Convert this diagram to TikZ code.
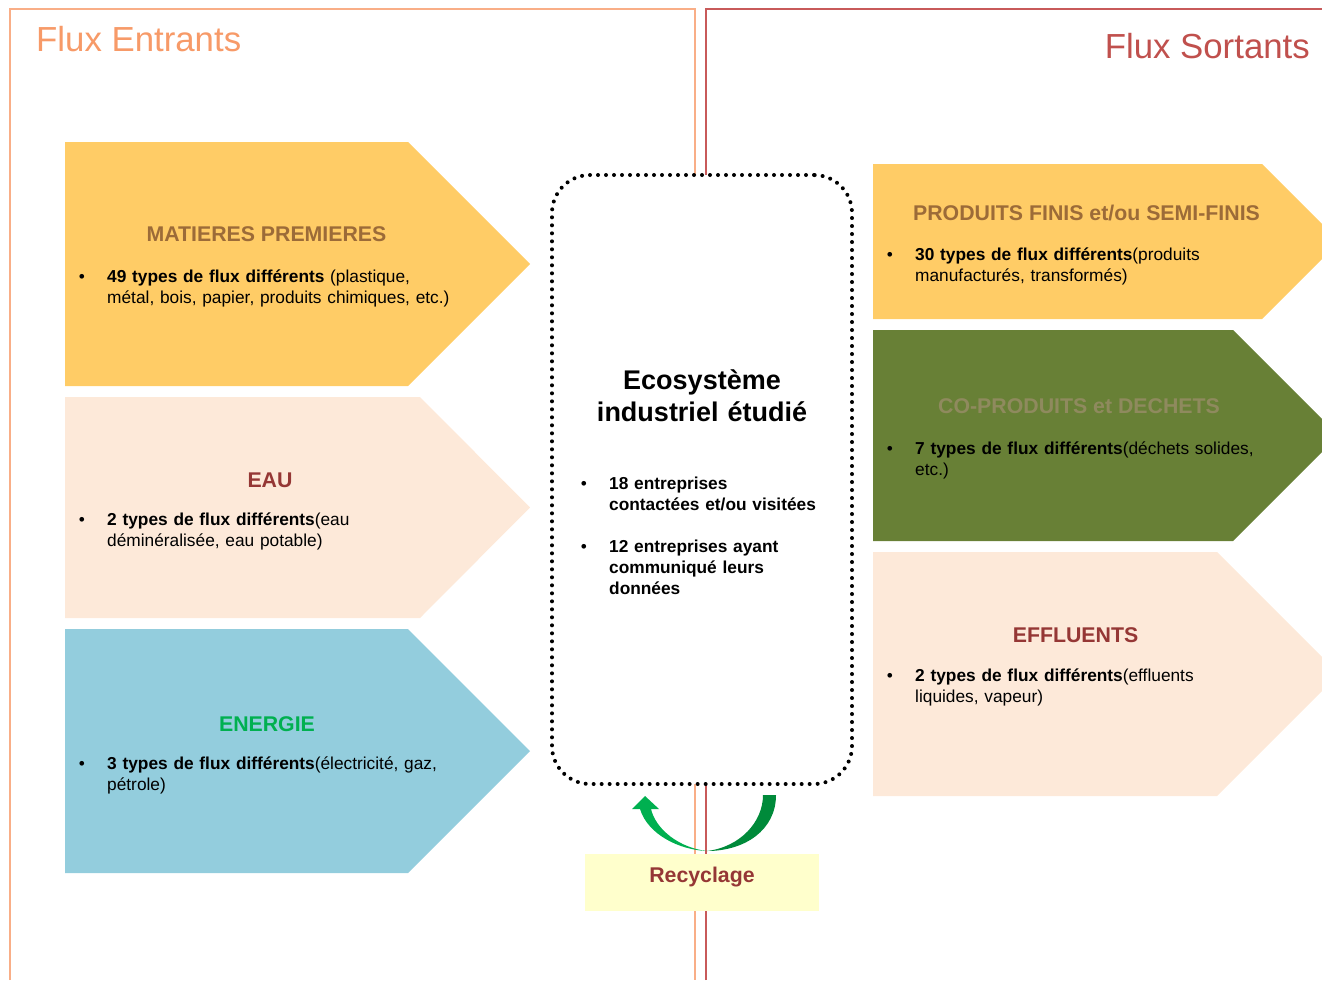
\documentclass[tikz,border=0pt]{standalone}
\usepackage{fontspec}
\setmainfont{Liberation Sans}
\usepackage{xcolor}
\usetikzlibrary{calc}
\definecolor{inline}{HTML}{F9AE87}
\definecolor{intitle}{HTML}{F79A68}
\definecolor{outline}{HTML}{C85A5A}
\definecolor{outtitle}{HTML}{C0504D}
\definecolor{matfill}{HTML}{FFCC66}
\definecolor{mattext}{HTML}{9C6B38}
\definecolor{eaufill}{HTML}{FDE9D9}
\definecolor{eautext}{HTML}{953735}
\definecolor{enfill}{HTML}{93CDDD}
\definecolor{entext}{HTML}{00B050}
\definecolor{cofill}{HTML}{688036}
\definecolor{cotext}{HTML}{8F8A5E}
\definecolor{recfill}{HTML}{FFFFCC}
\definecolor{recgreen}{HTML}{00B050}
\definecolor{recdark}{HTML}{008A3A}
\tikzset{
  frame/.style={line width=1.5pt},
  head/.style={font=\fontsize{34.8}{40}\selectfont, inner sep=0pt},
  ttl/.style={font=\fontsize{21.3}{25}\selectfont\bfseries, inner sep=0pt, anchor=base},
  bul/.style={font=\fontsize{17.3}{21}\selectfont, inner sep=0pt, anchor=base},
  txt/.style={font=\fontsize{17.3}{21}\selectfont, inner sep=0pt, anchor=base west, text width=440pt, align=left},
  ecobox/.style={draw=black, line width=4pt, dash pattern=on 0pt off 8pt, line cap=round, rounded corners=38pt, fill=white},
  recbox/.style={fill=recfill, inner sep=0pt, minimum width=234pt, minimum height=57pt}
}

\begin{document}
\begin{tikzpicture}[x=1pt,y=-1pt]
  \useasboundingbox (0,0) rectangle (1322,980);
  \draw[frame, draw=inline] (10,980) -- (10,9) -- (695,9) -- (695,980);
  \draw[frame, draw=outline] (706,980) -- (706,9) -- (1322,9);
  \node[head, text=intitle, anchor=base west] (entrants) at (36,51) {Flux Entrants};
  \node[head, text=outtitle, anchor=base east] (sortants) at (1310,58) {Flux Sortants};

  % flux entrants
  \fill[matfill] (65,142) -- (408,142) -- (530,264) -- (408,386) -- (65,386) -- cycle;
  \fill[eaufill] (65,397) -- (420,397) -- (530,507.5) -- (420,618) -- (65,618) -- cycle;
  \fill[enfill] (65,629) -- (408,629) -- (530,751) -- (408,873) -- (65,873) -- cycle;
  \node[ttl, text=mattext] (mat) at (266.5,241.5) {MATIERES PREMIERES};
  \node[bul] at (82,282) {•};
  \node[txt] (matb) at (107,282) {\textbf{49 types de flux différents} (plastique,\\métal, bois, papier, produits chimiques, etc.)};
  \node[ttl, text=eautext] (eau) at (270,487) {EAU};
  \node[bul] at (82,525) {•};
  \node[txt] (eaub) at (107,525) {\textbf{2 types de flux différents}(eau\\déminéralisée, eau potable)};
  \node[ttl, text=entext] (en) at (267,731) {ENERGIE};
  \node[bul] at (82,769) {•};
  \node[txt] (enb) at (107,769) {\textbf{3 types de flux différents}(électricité, gaz,\\pétrole)};

  % flux sortants
  \fill[matfill] (873,164) -- (1262,164) -- (1339.5,241.5) -- (1262,319) -- (873,319) -- cycle;
  \fill[cofill] (873,330) -- (1233,330) -- (1338.5,435.5) -- (1233,541) -- (873,541) -- cycle;
  \fill[eaufill] (873,552) -- (1217,552) -- (1339,674) -- (1217,796) -- (873,796) -- cycle;
  \node[ttl, text=mattext] (prod) at (1086.5,220) {PRODUITS FINIS et/ou SEMI-FINIS};
  \node[bul] at (890,260.7) {•};
  \node[txt] (prodb) at (915,260.7) {\textbf{30 types de flux différents}(produits\\manufacturés, transformés)};
  \node[ttl, text=cotext] (co) at (1079,413) {CO-PRODUITS et DECHETS};
  \node[bul] at (890,454) {•};
  \node[txt] (cob) at (915,454) {\textbf{7 types de flux différents}(déchets solides,\\etc.)};
  \node[ttl, text=eautext] (eff) at (1075.5,642) {EFFLUENTS};
  \node[bul] at (890,681.7) {•};
  \node[txt] (effb) at (915,681.7) {\textbf{2 types de flux différents}(effluents\\liquides, vapeur)};

  % ecosysteme
  \node[ecobox, minimum width=300pt, minimum height=609pt] (eco) at (702,479.5) {};
  \node[font=\fontsize{27}{32}\selectfont\bfseries, inner sep=0pt, anchor=base, text width=290pt, align=center] (ecot) at (702,389) {Ecosystème\\industriel étudié};
  \node[bul] at (584,489) {•};
  \node[txt, font=\fontsize{17.3}{21}\selectfont\bfseries] (ent1) at (609,489) {18 entreprises\\contactées et/ou visitées};
  \node[bul] at (584,552) {•};
  \node[txt, font=\fontsize{17.3}{21}\selectfont\bfseries] (ent2) at (609,552) {12 entreprises ayant\\communiqué leurs\\données};

  % recyclage
  \coordinate (rbot) at (707,851);
  \coordinate (rtip) at (645,796);
  \fill[recdark] (rbot) .. controls (745,851) and (776,830) .. (776,795) -- (763,795) .. controls (763,822) and (740,847) .. (rbot) -- cycle;
  \fill[recgreen] (rbot) .. controls (680,850) and (648,835) .. (640,809) -- (632,809) -- (rtip) -- (659,809) -- (651,809) .. controls (656,830) and (680,848) .. (rbot) -- cycle;
  \node[recbox] (rec) at (702,882.5) {};
  \node[ttl, text=eautext] (rect) at (702,882) {Recyclage};
\end{tikzpicture}
\end{document}
